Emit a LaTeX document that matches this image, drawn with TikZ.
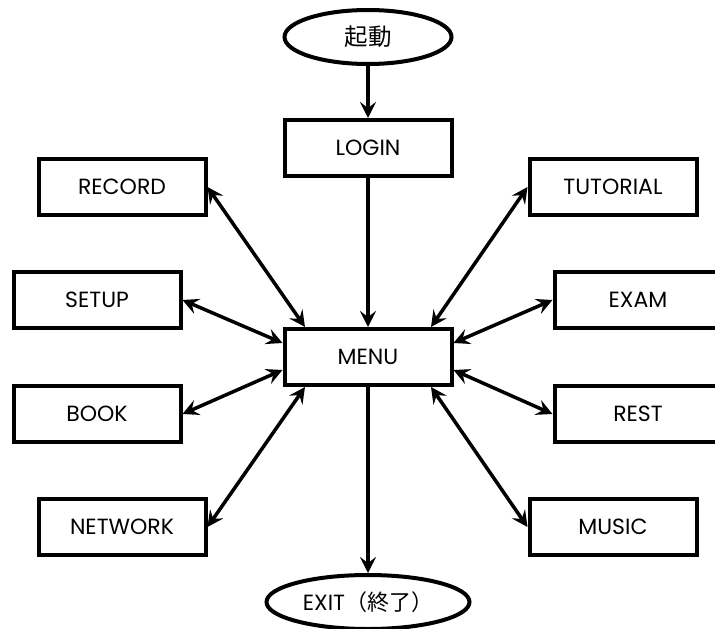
\documentclass[tikz,border=0pt]{standalone}
\usepackage{fontspec}
\setmainfont{Poppins}
\newfontfamily\cjkfont{Noto Sans CJK JP}
\usetikzlibrary{arrows.meta,shapes.geometric,calc}
\begin{document}
\begin{tikzpicture}[x=1pt,y=-1pt,
  every node/.style={font=\fontsize{22}{24}\selectfont},
  cjk/.style={font=\fontsize{23.5}{26}\cjkfont},
  box/.style={draw,line width=4pt,rectangle,minimum width=167pt,minimum height=56pt,inner sep=0pt},
  oval/.style={draw,line width=4pt,ellipse,minimum height=54pt,inner sep=0pt},
  flow/.style={line width=3.5pt,-{Stealth[length=16pt,width=16pt,inset=6pt]}},
  link/.style={line width=3.5pt,{Stealth[length=16pt,width=16pt,inset=6pt]}-{Stealth[length=16pt,width=16pt,inset=6pt]}}]
\useasboundingbox (0,0) rectangle (715,629);

% main column
\node[oval,cjk,minimum width=167pt] (start) at (368,37) {起動};
\node[box] (login) at (368,148) {LOGIN};
\node[box] (menu) at (368,357) {MENU};
\node[oval,minimum width=203pt] (exit) at (368,602) {EXIT{\fontsize{22}{24}\cjkfont （終了）}};

% left column
\node[box] (record) at (122,187) {RECORD};
\node[box] (setup) at (97,300) {SETUP};
\node[box] (book) at (97,414) {BOOK};
\node[box] (network) at (122,527) {NETWORK};

% right column
\node[box] (tutorial) at (613,187) {TUTORIAL};
\node[box] (exam) at (638,300) {EXAM};
\node[box] (rest) at (638,414) {REST};
\node[box] (music) at (613,527) {MUSIC};

% attachment points on the menu box
\coordinate (mnw) at ($(menu.north)+(-63,0)$);
\coordinate (mne) at ($(menu.north)+(63,0)$);
\coordinate (msw) at ($(menu.south)+(-63,0)$);
\coordinate (mse) at ($(menu.south)+(63,0)$);
\coordinate (mwu) at ($(menu.west)+(0,-14)$);
\coordinate (mwd) at ($(menu.west)+(0,13)$);
\coordinate (meu) at ($(menu.east)+(0,-14)$);
\coordinate (med) at ($(menu.east)+(0,13)$);

% flow
\draw[flow] (start) -- (login);
\draw[flow] (login) -- (menu);
\draw[flow] (menu) -- (exit);

% two-way links
\draw[link] (record.east) -- (mnw);
\draw[link] (setup.east) -- (mwu);
\draw[link] (book.east) -- (mwd);
\draw[link] (network.east) -- (msw);
\draw[link] (tutorial.west) -- (mne);
\draw[link] (exam.west) -- (meu);
\draw[link] (rest.west) -- (med);
\draw[link] (music.west) -- (mse);
\end{tikzpicture}
\end{document}
